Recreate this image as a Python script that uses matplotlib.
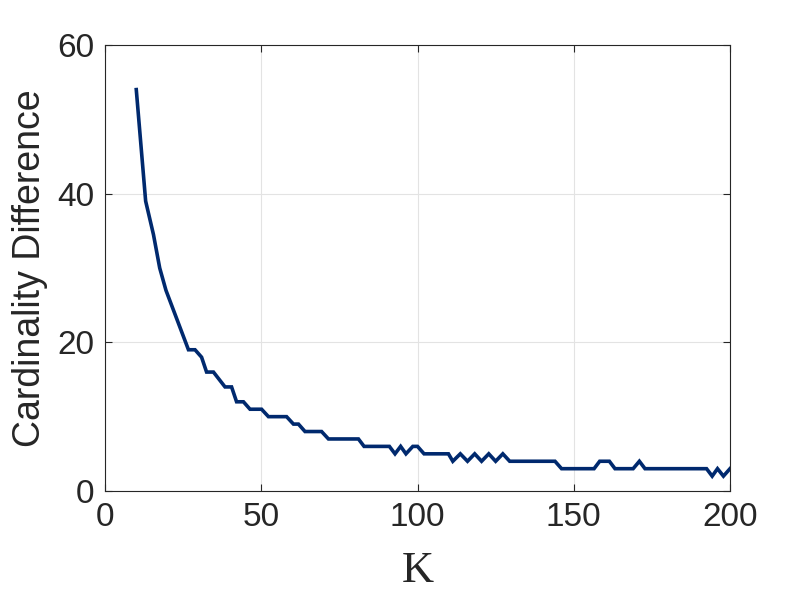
import matplotlib.pyplot as plt

plt.rcParams.update({
    "font.family": ["Liberation Sans", "DejaVu Sans"],
    "font.size": 20,
    "xtick.labelsize": 24,
    "ytick.labelsize": 24,
})

# K values where the curve bends
k_vals = [10, 13, 15.5, 17.5, 19.5, 26.7, 28.8, 30.9, 32.5, 34.7, 38.4, 40.5,
          42.1, 44.3, 46.4, 50.1, 52.3, 58.1, 60.3, 61.9, 64, 69.3, 71.5, 81.1,
          82.9, 91, 92.8, 94.6, 96.3, 98.5, 100, 102.1, 109.9, 111.3, 113.7,
          116, 118.3, 120.5, 122.8, 125, 127.3, 129.5, 144, 146.1, 156.5, 158.3,
          161.4, 163.2, 169, 171, 172.8, 192.5, 194.3, 196, 197.9, 200]
card_diff = [54, 39, 34.5, 30, 27, 19, 19, 18, 16, 16, 14, 14,
             12, 12, 11, 11, 10, 10, 9, 9, 8, 8, 7, 7,
             6, 6, 5, 6, 5, 6, 6, 5, 5, 4, 5,
             4, 5, 4, 5, 4, 5, 4, 4, 3, 3, 4,
             4, 3, 3, 4, 3, 3, 2, 3, 2, 3]

x_ticks = [0, 50, 100, 150, 200]
y_ticks = [0, 20, 40, 60]

fig = plt.figure(figsize=(8.06, 6.04), dpi=100)
ax = fig.add_axes([0.1303, 0.1871, 0.7754, 0.7384])

ax.plot(k_vals, card_diff, color="#00296e", linewidth=2.6, solid_joinstyle="miter")

ax.set_xlim(0, 200)
ax.set_ylim(0, 60)
ax.set_xticks(x_ticks)
ax.set_yticks(y_ticks)
ax.grid(True, color="#e3e3e3", linewidth=0.8)
ax.set_axisbelow(True)

for sp in ax.spines.values():
    sp.set_color("#262626")
    sp.set_linewidth(0.8)
ax.tick_params(direction="in", length=5, width=0.8, colors="#262626",
               top=True, right=True, pad=8)

ax.set_xlabel("K", family="Liberation Serif", fontsize=32, color="#262626", labelpad=13)
ax.set_ylabel("Cardinality Difference", fontsize=27, color="#262626", labelpad=6)

fig.savefig("out.png", dpi=100)
